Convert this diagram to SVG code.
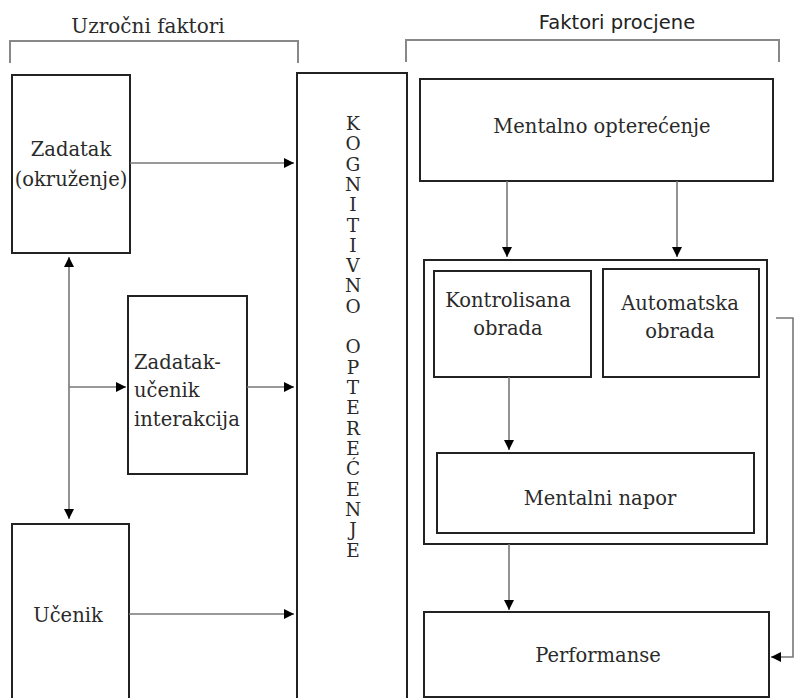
<svg xmlns="http://www.w3.org/2000/svg" width="794" height="698" viewBox="0 0 794 698">
<style>
.box{fill:#fff;stroke:#222;stroke-width:2}
.t{font-family:"DejaVu Serif","Liberation Serif",serif;font-size:19.5px;fill:#2a2a2a}
.c{text-anchor:middle}
.ln{stroke:#777;stroke-width:1.6;fill:none}
.br{stroke:#888;stroke-width:2;fill:none}
.v{font-family:"DejaVu Serif","Liberation Serif",serif;font-size:18.5px;fill:#2a2a2a;text-anchor:middle}
</style>
<defs>
<marker id="ah" viewBox="0 0 10 10" refX="10" refY="5" markerWidth="10" markerHeight="10" markerUnits="userSpaceOnUse" orient="auto">
<path d="M0,0 L10,5 L0,10 z" fill="#000"/>
</marker>
</defs>
<rect width="794" height="698" fill="#fff"/>
<g id="header-left">
<path class="br" d="M10,63 V41 H298 V63"/>
<text x="148" y="33" class="t c" style="font-size:20px">Uzročni faktori</text>
</g>
<g id="header-right">
<path class="br" d="M406,62 V40 H779 V62"/>
<text x="617" y="29" font-family="DejaVu Sans, sans-serif" font-size="19.5" fill="#222" text-anchor="middle">Faktori procjene</text>
</g>
<g id="zadatak">
<rect class="box" x="12" y="75" width="118" height="178"/>
<text x="71" y="156" class="t c">Zadatak</text>
<text x="71" y="186" class="t c">(okruženje)</text>
</g>
<g id="interakcija">
<rect class="box" x="128" y="296" width="119" height="178"/>
<text x="134" y="369" class="t">Zadatak-</text>
<text x="134" y="397" class="t">učenik</text>
<text x="134" y="426" class="t">interakcija</text>
</g>
<g id="ucenik">
<path class="box" d="M12,699 V524 H129 V699"/>
<text x="68" y="622" class="t c">Učenik</text>
</g>
<g id="kognitivno">
<path class="box" d="M297,699 V73 H407 V699"/>
<text class="v" x="353" y="130">K</text>
<text class="v" x="353" y="150">O</text>
<text class="v" x="353" y="171">G</text>
<text class="v" x="353" y="191">N</text>
<text class="v" x="353" y="211">I</text>
<text class="v" x="353" y="232">T</text>
<text class="v" x="353" y="252">I</text>
<text class="v" x="353" y="272">V</text>
<text class="v" x="353" y="292">N</text>
<text class="v" x="353" y="313">O</text>
<text class="v" x="353" y="353">O</text>
<text class="v" x="353" y="374">P</text>
<text class="v" x="353" y="394">T</text>
<text class="v" x="353" y="414">E</text>
<text class="v" x="353" y="435">R</text>
<text class="v" x="353" y="455">E</text>
<text class="v" x="353" y="475">Ć</text>
<text class="v" x="353" y="496">E</text>
<text class="v" x="353" y="516">N</text>
<text class="v" x="353" y="536">J</text>
<text class="v" x="353" y="557">E</text>
</g>
<g id="mentalno-opterecenje">
<rect class="box" x="420" y="79" width="353" height="102"/>
<text x="602" y="133" class="t c">Mentalno opterećenje</text>
</g>
<g id="obrada-container">
<rect class="box" x="424" y="260" width="343" height="284"/>
</g>
<g id="kontrolisana">
<rect class="box" x="434" y="271" width="157" height="106"/>
<text x="508" y="307" class="t c">Kontrolisana</text>
<text x="508" y="335" class="t c">obrada</text>
</g>
<g id="automatska">
<rect class="box" x="603" y="269" width="156" height="108"/>
<text x="680" y="310" class="t c">Automatska</text>
<text x="680" y="338" class="t c">obrada</text>
</g>
<g id="mentalni-napor">
<rect class="box" x="437" y="453" width="317" height="80"/>
<text x="600" y="505" class="t c">Mentalni napor</text>
</g>
<g id="performanse">
<rect class="box" x="424" y="612" width="345" height="85"/>
<text x="598" y="662" class="t c">Performanse</text>
</g>
<g id="connectors">
<line class="ln" x1="130" y1="163" x2="294" y2="163" marker-end="url(#ah)"/>
<line class="ln" x1="247" y1="387" x2="294" y2="387" marker-end="url(#ah)"/>
<line class="ln" x1="129" y1="614" x2="294" y2="614" marker-end="url(#ah)"/>
<line class="ln" x1="69" y1="387" x2="69" y2="257" marker-end="url(#ah)"/>
<line class="ln" x1="69" y1="387" x2="69" y2="519" marker-end="url(#ah)"/>
<line class="ln" x1="69" y1="387" x2="126" y2="387" marker-end="url(#ah)"/>
<line class="ln" x1="507" y1="181" x2="507" y2="257" marker-end="url(#ah)"/>
<line class="ln" x1="677" y1="181" x2="677" y2="257" marker-end="url(#ah)"/>
<line class="ln" x1="509" y1="377" x2="509" y2="450" marker-end="url(#ah)"/>
<line class="ln" x1="509" y1="544" x2="509" y2="610" marker-end="url(#ah)"/>
<path class="ln" d="M776,318 H793 V657 H771" marker-end="url(#ah)"/>
</g>
</svg>
